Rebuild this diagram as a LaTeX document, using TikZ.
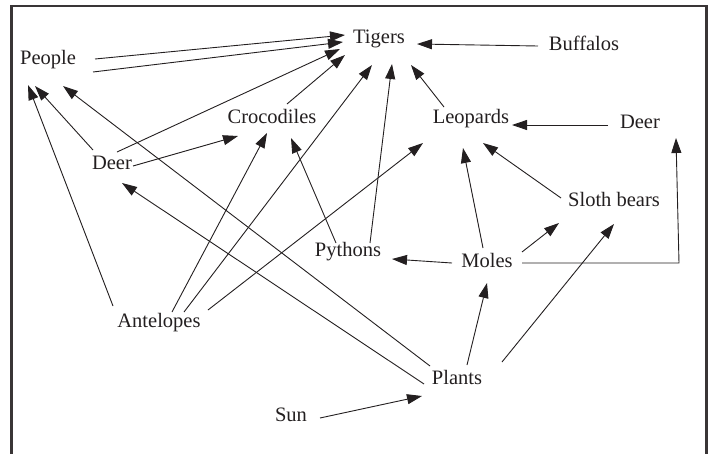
\documentclass[tikz,border=0pt]{standalone}
\usepackage{fontspec}
\setmainfont{Liberation Serif}
\usetikzlibrary{arrows.meta}
\definecolor{ink}{HTML}{231F20}
\begin{document}
\begin{tikzpicture}[x=1pt,y=-1pt,
  lbl/.style={inner sep=0pt,text=ink,font=\fontsize{20.5}{24}\selectfont},
  arr/.style={draw=ink,line width=0.9pt,-{Triangle[length=15pt,width=10pt]}},
  frame/.style={draw=ink!90,line width=2.8pt}]
\useasboundingbox (0,0) rectangle (713,453);
\draw[frame] (11.5,460) -- (11.5,6) -- (706.5,6) -- (706.5,460);
\node[lbl] (people) at (48,60) {People};
\node[lbl] (tigers) at (379,39) {Tigers};
\node[lbl] (buffalos) at (584,43) {Buffalos};
\node[lbl] (croc) at (272,116) {Crocodiles};
\node[lbl] (deerL) at (112,163) {Deer};
\node[lbl] (leopards) at (471,119) {Leopards};
\node[lbl] (deerR) at (640,122) {Deer};
\node[lbl] (sloth) at (614,199) {Sloth bears};
\node[lbl] (pythons) at (348,252) {Pythons};
\node[lbl] (moles) at (487,260) {Moles};
\node[lbl] (antelopes) at (159,323) {Antelopes};
\node[lbl] (plants) at (457,377) {Plants};
\node[lbl] (sun) at (291,415) {Sun};
\draw[arr] ([shift={(47,-1)}]people.center) -- ([shift={(-34,-4)}]tigers.center);
\draw[arr] ([shift={(45,12)}]people.center) -- ([shift={(-36,3)}]tigers.center);
\draw[arr] ([shift={(5,-11)}]deerL.center) -- ([shift={(-39,10)}]tigers.center);
\draw[arr] ([shift={(15,-12)}]croc.center) -- ([shift={(-34,16)}]tigers.center);
\draw[arr] ([shift={(-19,-13)}]deerL.center) -- ([shift={(-13,26)}]people.center);
\draw[arr] ([shift={(-46,-17)}]antelopes.center) -- ([shift={(-20,25)}]people.center);
\draw[arr] ([shift={(-27,-11)}]plants.center) -- ([shift={(15,26)}]people.center);
\draw[arr] ([shift={(-33,7)}]plants.center) -- ([shift={(10,20)}]deerL.center);
\draw[arr] ([shift={(21,3)}]deerL.center) -- ([shift={(-34,20)}]croc.center);
\draw[arr] ([shift={(13,-11)}]antelopes.center) -- ([shift={(-5,17)}]croc.center);
\draw[arr] ([shift={(25,-11)}]antelopes.center) -- ([shift={(-7,26)}]tigers.center);
\draw[arr] ([shift={(49,-13)}]antelopes.center) -- ([shift={(-48,24)}]leopards.center);
\draw[arr] ([shift={(-12,-9)}]pythons.center) -- ([shift={(19,22)}]croc.center);
\draw[arr] ([shift={(22,-9)}]pythons.center) -- ([shift={(13,25)}]tigers.center);
\draw[arr] ([shift={(-27,-12)}]leopards.center) -- ([shift={(32,26)}]tigers.center);
\draw[arr] ([shift={(-46,3)}]buffalos.center) -- ([shift={(38,5)}]tigers.center);
\draw[arr] ([shift={(-32,3)}]deerR.center) -- ([shift={(41,6)}]leopards.center);
\draw[arr] ([shift={(-4,-12)}]moles.center) -- ([shift={(-8,29)}]leopards.center);
\draw[arr] ([shift={(-53,-1)}]sloth.center) -- ([shift={(12,24)}]leopards.center);
\draw[arr] ([shift={(35,-8)}]moles.center) -- ([shift={(-55,24)}]sloth.center);
\draw[arr] ([shift={(35,3)}]moles.center) -- ([shift={(192,3)}]moles.center) -- ([shift={(36,16)}]deerR.center);
\draw[arr] ([shift={(-35,3)}]moles.center) -- ([shift={(44,7)}]pythons.center);
\draw[arr] ([shift={(10,-12)}]plants.center) -- ([shift={(0,23)}]moles.center);
\draw[arr] ([shift={(45,-15)}]plants.center) -- ([shift={(0,25)}]sloth.center);
\draw[arr] ([shift={(29,3)}]sun.center) -- ([shift={(-35,19)}]plants.center);
\end{tikzpicture}
\end{document}
